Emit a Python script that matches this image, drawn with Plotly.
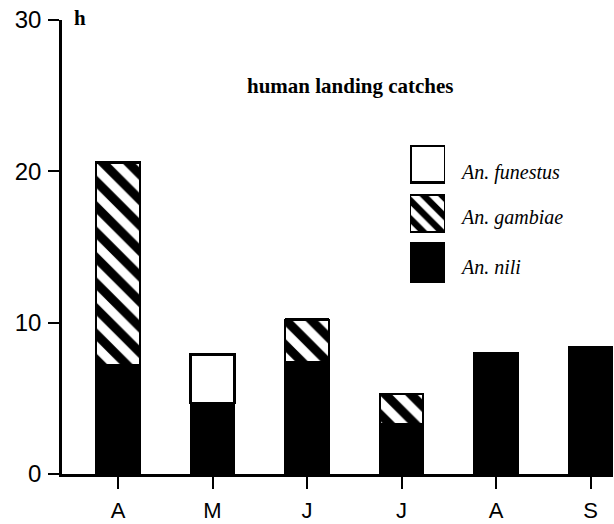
import plotly.graph_objects as go

months = ["A", "M", "J", "J", "A", "S"]
nili = [7.2, 4.7, 7.4, 3.3, 8.0, 8.4]
gambiae = [13.4, 0.0, 2.8, 2.0, 0.0, 0.0]
funestus = [0.0, 3.2, 0.0, 0.0, 0.0, 0.0]
y_ticks = [0, 10, 20, 30]
species_labels = ["An. funestus", "An. gambiae", "An. nili"]

W, H = 614, 524
L, R, T, B = 62, 1, 20, 50
pw, ph = W - L - R, H - T - B
xpos = list(range(len(months)))
spacing = 94.5
x0 = -(118 - L) / spacing
x1 = x0 + pw / spacing

def px(x):
    return (x - L) / pw

def py(y):
    return (H - B - y) / ph

fig = go.Figure()
bw = 0.465
hatch = dict(shape="\\", size=18, solidity=0.5, fgcolor="black", bgcolor="white", fgopacity=1, fillmode="replace")

fig.add_trace(go.Bar(x=xpos, y=nili, width=bw, marker=dict(color="black", line=dict(color="black", width=1.5)), showlegend=False))
fig.add_trace(go.Bar(x=xpos, y=gambiae, width=bw, marker=dict(color="white", pattern=hatch, line=dict(color="black", width=2)), showlegend=False))
fig.add_trace(go.Bar(x=xpos, y=funestus, width=bw, marker=dict(color="white", line=dict(color="black", width=2.5)), showlegend=False))

# legend swatches on a separate small axis (pixel units)
fig.add_trace(go.Bar(x=[0.5], y=[37], base=[101], width=1, marker=dict(color="white", line=dict(color="black", width=3)), xaxis="x2", yaxis="y2", showlegend=False))
fig.add_trace(go.Bar(x=[0.5], y=[37], base=[51], width=1, marker=dict(color="white", pattern=dict(shape="\\", size=13, solidity=0.5, fgcolor="black", bgcolor="white", fgopacity=1, fillmode="replace"), line=dict(color="black", width=2)), xaxis="x2", yaxis="y2", showlegend=False))
fig.add_trace(go.Bar(x=[0.5], y=[41], base=[0], width=1, marker=dict(color="black", line=dict(color="black", width=1)), xaxis="x2", yaxis="y2", showlegend=False))

fig.update_layout(
    width=W, height=H, barmode="stack",
    margin=dict(l=L, r=R, t=T, b=B, autoexpand=False),
    plot_bgcolor="white", paper_bgcolor="white",
    font=dict(family="Liberation Sans", color="black"),
    xaxis=dict(range=[x0, x1], tickvals=xpos, ticktext=months, showline=True, linecolor="black", linewidth=2.5,
               ticks="outside", ticklen=12, tickwidth=2, tickcolor="black", showgrid=False, zeroline=False,
               tickfont=dict(family="Liberation Sans", size=22), ticklabelstandoff=3, automargin=False),
    yaxis=dict(range=[0, 30], tickvals=y_ticks, showline=True, linecolor="black", linewidth=2.5,
               ticks="outside", ticklen=11, tickwidth=2, tickcolor="black", showgrid=False, zeroline=False,
               tickfont=dict(family="Liberation Sans", size=24), ticklabelstandoff=2, automargin=False),
    xaxis2=dict(domain=[px(410), px(445)], range=[0, 1], visible=False, anchor="y2"),
    yaxis2=dict(domain=[py(283), py(145)], range=[0, 138], visible=False, anchor="x2"),
)

ann = [
    dict(text="<b>h</b>", x=px(80), y=py(18), font=dict(family="Liberation Serif", size=21)),
    dict(text="<b>human landing catches</b>", x=px(350), y=py(86), font=dict(family="Liberation Serif", size=21)),
]
for a in ann:
    fig.add_annotation(xref="paper", yref="paper", showarrow=False, xanchor="center", yanchor="middle", **a)

for lab, yy in zip(species_labels, [173, 218, 267]):
    fig.add_annotation(text="<i>" + lab + "</i>", xref="paper", yref="paper", x=px(458), y=py(yy),
                       xanchor="left", yanchor="middle", showarrow=False,
                       font=dict(family="Liberation Serif", size=20))

fig.write_html("out.html", config={"displayModeBar": False},
               post_script="document.body.style.margin='0';")
